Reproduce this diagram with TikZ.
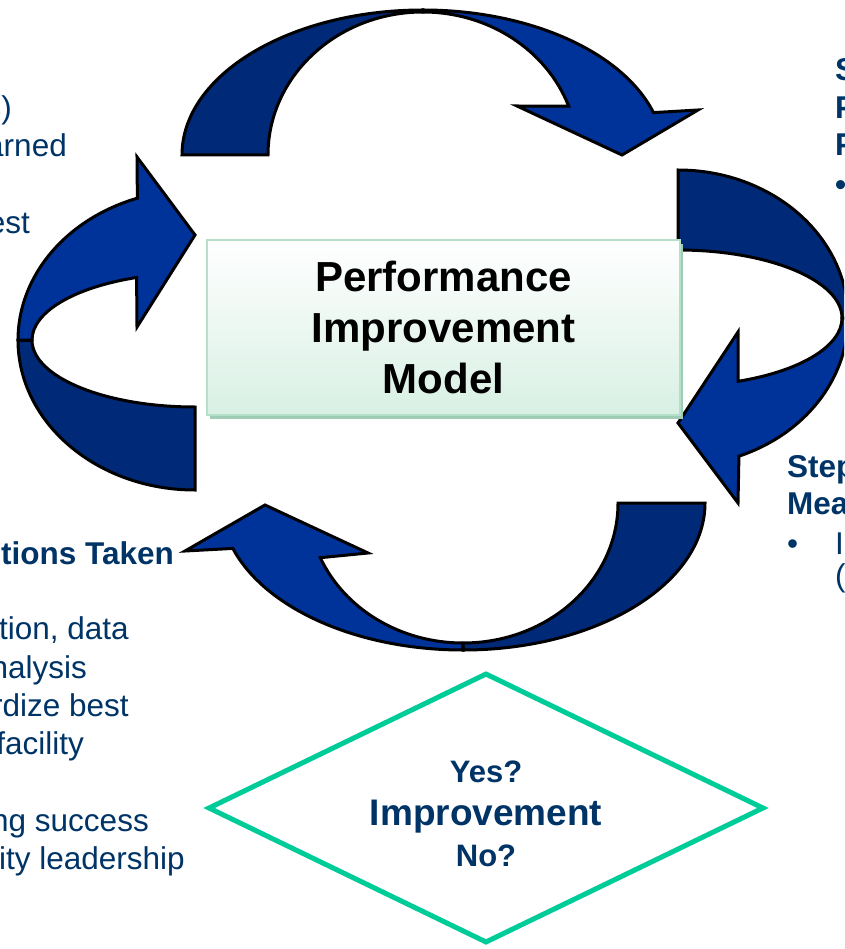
\documentclass[tikz,border=0pt]{standalone}
\usepackage{fontspec}
\setmainfont{Liberation Sans}
\usetikzlibrary{shapes.geometric,shadows}
\definecolor{navy}{RGB}{0,51,102}
\definecolor{bandlight}{RGB}{0,51,153}
\definecolor{banddark}{RGB}{0,41,120}
\definecolor{boxmint}{RGB}{216,240,228}
\definecolor{boxline}{RGB}{180,224,202}
\definecolor{boxshade}{RGB}{158,204,180}
\definecolor{checkgreen}{RGB}{0,204,153}

\begin{document}
\begin{tikzpicture}[x=1pt,y=-1pt,
		bandback/.style={fill=banddark,draw=black,line width=3pt},
		bandfront/.style={fill=bandlight,draw=black,line width=3pt},
		note/.style={text=navy,inner sep=0pt,font=\fontsize{31.5}{38}\selectfont},
		notehead/.style={note,font=\bfseries\fontsize{31.5}{38}\selectfont},
		model/.style={rectangle,draw=boxline,line width=1.5pt,top color=white,bottom color=boxmint,minimum width=473pt,minimum height=175pt,align=center,font=\bfseries\fontsize{42}{51}\selectfont,drop shadow={shadow xshift=3pt,shadow yshift=-4pt,fill=boxshade,opacity=1}},
		check/.style={diamond,draw=checkgreen,line width=5pt,aspect=2.06,minimum width=556pt,minimum height=270pt,inner sep=0pt,text=navy,font=\bfseries\fontsize{31}{41}\selectfont}]

	\useasboundingbox (0,0) rectangle (844,949);
	\clip (0,0) rectangle (844,949);

	\filldraw[bandback] (182,155) arc[start angle=180,end angle=270,x radius=241,y radius=145] -- (423,12) arc[start angle=270,end angle=180,x radius=155,y radius=143] -- cycle;
	\filldraw[bandfront] (423,10) arc[start angle=270,end angle=343,x radius=241,y radius=145] -- (698,110) -- (622,155) -- (517,106) -- (568.65,106.1) arc[start angle=340,end angle=270,x radius=155,y radius=143] -- cycle;

	\filldraw[bandback] (678,170) arc[start angle=270,end angle=360,x radius=170,y radius=148] -- (842,318) arc[start angle=0,end angle=-90,x radius=164,y radius=68] -- cycle;
	\filldraw[bandfront] (848,318) arc[start angle=0,end angle=69,x radius=170,y radius=148] -- (738,503) -- (678,423) -- (738,332) -- (738.1,381.3) arc[start angle=68.5,end angle=0,x radius=164,y radius=68] -- cycle;

	\filldraw[bandback] (705,503) arc[start angle=0,end angle=90,x radius=242,y radius=147] -- (463,643) arc[start angle=90,end angle=0,x radius=155,y radius=140] -- cycle;
	\filldraw[bandfront] (463,650) arc[start angle=90,end angle=162,x radius=242,y radius=147] -- (185,551) -- (265,505) -- (368,553) -- (320.3,557.7) arc[start angle=157,end angle=90,x radius=155,y radius=140] -- cycle;

	\filldraw[bandback] (18,340) arc[start angle=180,end angle=90,x radius=177,y radius=150] -- (195,407) arc[start angle=90,end angle=180,x radius=163,y radius=67] -- cycle;
	\filldraw[bandfront] (18,340) arc[start angle=180,end angle=251,x radius=177,y radius=150] -- (137,157) -- (195,235) -- (137,327) -- (136.6,277.5) arc[start angle=249,end angle=180,x radius=163,y radius=67] -- cycle;

	\node[model] (pim) at (443.5,327.5) {Performance\\Improvement\\Model};

	\node[check] (decide) at (486,808) {\raisebox{-8pt}[\height][\depth]{\begin{tabular}{@{}c@{}}Yes?\\[2pt]\fontsize{37}{41}\selectfont Improvement\\No?\end{tabular}}};

	\node[note,anchor=base east] (l1) at (12,119) {s)};
	\node[note,anchor=base east] (l2) at (67,157) {arned};
	\node[note,anchor=base east] (l3) at (30,234) {est};
	\node[notehead,anchor=base east] (l4) at (174,564) {tions Taken};
	\node[note,anchor=base east] (l5) at (129,639) {tion, data};
	\node[note,anchor=base east] (l6) at (87,678) {nalysis};
	\node[note,anchor=base east] (l7) at (129,716) {rdize best};
	\node[note,anchor=base east] (l8) at (84,754) {facility};
	\node[note,anchor=base east] (l9) at (149,831) {ng success};
	\node[note,anchor=base east] (l10) at (185,869) {ity leadership};

	\node[notehead,anchor=base west] (r1) at (835,81) {S};
	\node[notehead,anchor=base west] (r2) at (835,119) {P};
	\node[notehead,anchor=base west] (r3) at (835,156) {P};
	\node[notehead,anchor=base west] (r4) at (835,196) {•};
	\node[notehead,anchor=base west] (r5) at (787,477) {Step};
	\node[notehead,anchor=base west] (r6) at (787,514) {Mea};
	\node[note,anchor=base west] (r7) at (787,554) {•};
	\node[note,anchor=base west] (r8) at (835,554) {I};
	\node[note,anchor=base west] (r9) at (835,586) {(};

\end{tikzpicture}
\end{document}
